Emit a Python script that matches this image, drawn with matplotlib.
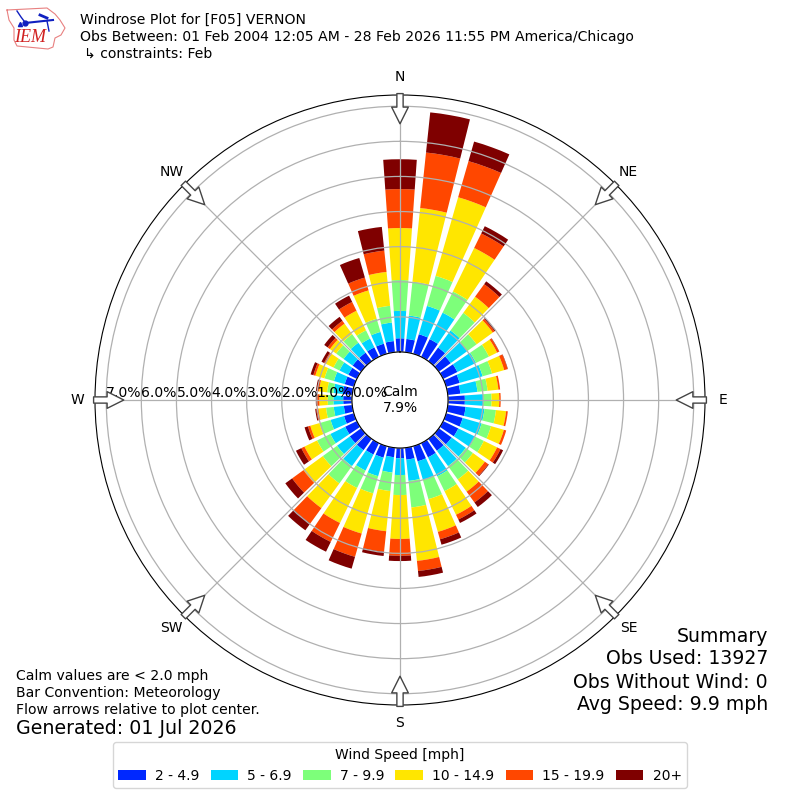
import numpy as np
import matplotlib
matplotlib.use("Agg")
import matplotlib.pyplot as plt
from matplotlib.lines import Line2D

# direction the wind comes from, degrees
directions = np.arange(10, 361, 10)

# percent of obs in each speed bin, one value per direction
speed_2_5 = [.38, .58, .56, .48, .42, .45, .40, .36, .48, .51, .49, .48,
             .45, .42, .45, .45, .34, .29, .27, .34, .36, .40, .40, .37,
             .29, .24, .25, .27, .27, .27, .30, .30, .30, .30, .32, .39]
speed_5_7 = [.67, .84, .84, .60, .58, .59, .68, .49, .52, .54, .56, .53,
             .50, .54, .60, .55, .61, .48, .44, .55, .51, .56, .45, .47,
             .40, .29, .28, .27, .32, .28, .32, .35, .28, .35, .53, .78]
speed_7_10 = [.97, .89, .67, .62, .33, .41, .28, .29, .24, .33, .28, .28,
              .25, .47, .47, .57, .76, .57, .53, .51, .55, .61, .50, .42,
              .33, .22, .16, .18, .28, .19, .26, .30, .26, .39, .48, .88]
speed_10_15 = [2.11, 2.33, 1.38, .57, .57, .26, .36, .31, .22, .29, .38, .42,
               .42, .43, .75, .97, 1.53, 1.25, 1.15, 1.19, 1.11, .87, .68, .40,
               .27, .22, .24, .23, .27, .24, .22, .37, .62, .84, .97, 1.48]
speed_15_20 = [1.59, 1.07, .46, .44, .06, .06, .10, .05, .04, .05, .07, .11,
               .12, .38, .15, .22, .29, .48, .59, .69, .60, .54, .40, .10,
               .07, .06, .07, .05, .06, .06, .08, .10, .28, .38, .61, 1.11]
speed_20 = [1.15, .58, .23, .10, .04, .01, .01, 0, 0, 0, 0, .08,
            .02, .16, .11, .16, .17, .15, .12, .35, .31, .24, .24, .17,
            .10, .03, .03, .04, .08, .08, .12, .14, .20, .58, .68, .85]

series = [speed_2_5, speed_5_7, speed_7_10, speed_10_15, speed_15_20, speed_20]
labels = ["2 - 4.9", "5 - 6.9", "7 - 9.9", "10 - 14.9", "15 - 19.9", "20+"]
colors = ["#0028ff", "#00d4ff", "#7dff7a", "#ffe600", "#ff4700", "#7f0000"]

compass_deg = [0, 45, 90, 135, 180, 225, 270, 315]
compass = ["N", "NE", "E", "SE", "S", "SW", "W", "NW"]
ring_ticks = [0, 1, 2, 3, 4, 5, 6, 7]

fig = plt.figure(figsize=(8, 8), dpi=100)
ax = fig.add_axes([95 / 800, 95 / 800, 610 / 800, 610 / 800], projection="polar")
ax.set_theta_zero_location("N")
ax.set_theta_direction(-1)

theta = np.deg2rad(directions)
base = np.zeros(len(directions))
for vals, lab, col in zip(series, labels, colors):
    ax.bar(theta, vals, width=np.deg2rad(8), bottom=base, color=col, label=lab, linewidth=0)
    base = base + np.array(vals)

ax.set_ylim(0, 7.32)
ax.set_rorigin(-1.368)
ax.set_yticks(ring_ticks)
ax.set_yticklabels(["%.1f%%" % t for t in ring_ticks], fontsize=10.1, ha="left", va="bottom")
ax.set_rlabel_position(270)
ax.set_xticks(np.deg2rad(compass_deg))
ax.set_xticklabels(compass, fontsize=10)
ax.tick_params(axis="x", pad=2.5)
ax.grid(True, color="#b0b0b0", lw=0.9)

# flow arrows, pointing at the center
for d in compass_deg:
    ax.annotate("", xy=(np.deg2rad(d), 6.5), xytext=(np.deg2rad(d), 7.36),
                arrowprops=dict(facecolor="white", edgecolor="#444444", lw=1,
                                width=4.5, headwidth=12, headlength=12, shrink=0),
                annotation_clip=False)

ax.text(0.5, 0.5, "Calm\n7.9%", transform=ax.transAxes, ha="center", va="center", fontsize=10)

fig.text(80 / 800, 1 - 20 / 800, "Windrose Plot for [F05] VERNON", fontsize=10.1, va="center")
fig.text(80 / 800, 1 - 37 / 800, "Obs Between: 01 Feb 2004 12:05 AM - 28 Feb 2026 11:55 PM America/Chicago",
         fontsize=10.1, va="center")
fig.text(84 / 800, 1 - 54 / 800, "↳ constraints: Feb", fontsize=10.1, va="center")

fig.text(16 / 800, 1 - 676 / 800, "Calm values are < 2.0 mph", fontsize=10.1, va="center")
fig.text(16 / 800, 1 - 693 / 800, "Bar Convention: Meteorology", fontsize=10.1, va="center")
fig.text(16 / 800, 1 - 710 / 800, "Flow arrows relative to plot center.", fontsize=10.1, va="center")
fig.text(16 / 800, 1 - 729 / 800, "Generated: 01 Jul 2026", fontsize=13.7, va="center")

summary = ["Summary", "Obs Used: 13927", "Obs Without Wind: 0", "Avg Speed: 9.9 mph"]
for i, s in enumerate(summary):
    fig.text(768 / 800, 1 - (636 + i * 23) / 800, s, fontsize=13.6, ha="right", va="center")

handles, leg_labels = ax.get_legend_handles_labels()
fig.legend(handles, leg_labels, ncol=6, loc="lower center", bbox_to_anchor=(0.5, 0.006),
           title="Wind Speed [mph]", fontsize=10, title_fontsize=10,
           columnspacing=0.8, handletextpad=0.65)

# small IEM logo, top left
logo = fig.add_axes([0, 1 - 56 / 800, 70 / 800, 56 / 800])
logo.set_xlim(0, 70)
logo.set_ylim(56, 0)
logo.axis("off")
outer_x = [7, 47, 55, 60, 65, 61, 55, 53, 48, 17, 14, 14, 9, 7]
outer_y = [10, 8, 14, 20, 28, 35, 38, 47, 49, 46, 40, 28, 20, 10]
logo.add_line(Line2D(outer_x, outer_y, color="#e88080", lw=0.8))
logo.add_line(Line2D([25, 53], [23, 20], color="#1020c0", lw=1.5))
logo.add_line(Line2D([17, 21, 24], [11, 17, 21], color="#1020c0", lw=1))
logo.add_line(Line2D([40, 47], [15, 18], color="#1020c0", lw=2))
logo.add_line(Line2D([47, 49], [21, 31], color="#1020c0", lw=1))
logo.plot([25], [23], "o", color="#1020c0", ms=3.5)
logo.plot([20], [24], "^", color="#1020c0", ms=3)
logo.text(30, 38, "IEM", color="#d02020", fontsize=13, family="Liberation Serif",
          style="italic", ha="center", va="center")

fig.savefig("out.png", dpi=100)
